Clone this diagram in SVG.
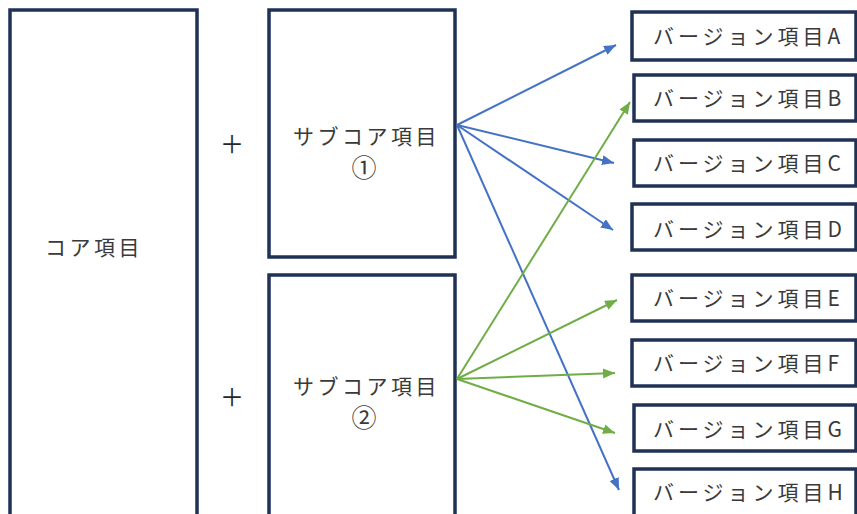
<svg xmlns="http://www.w3.org/2000/svg" width="857" height="514" viewBox="0 0 857 514">
<defs>
<style>
.box{fill:#fff;stroke:#1f3256;stroke-width:3.5}
.t{font-family:"Noto Sans CJK JP","Noto Sans",sans-serif;font-size:21px;fill:#3a3a3a;letter-spacing:3.5px}
.v{font-family:"Noto Sans CJK JP","Noto Sans",sans-serif;font-size:21px;fill:#3a3a3a;letter-spacing:4px}
.c{font-family:"Noto Sans CJK JP","Noto Sans",sans-serif;font-size:25px;fill:#3a3a3a;text-anchor:middle}
.p{font-family:"Noto Sans CJK JP","Noto Sans",sans-serif;font-size:24px;fill:#262626;text-anchor:middle}
.b{stroke:#4472c4;stroke-width:2;fill:none;marker-end:url(#ab)}
.g{stroke:#70ad47;stroke-width:2;fill:none;marker-end:url(#ag)}
</style>
<marker id="ab" markerUnits="userSpaceOnUse" markerWidth="14" markerHeight="12" refX="12" refY="5" orient="auto"><path d="M0,0 L12,5 L0,10 Z" fill="#4472c4"/></marker>
<marker id="ag" markerUnits="userSpaceOnUse" markerWidth="14" markerHeight="12" refX="12" refY="5" orient="auto"><path d="M0,0 L12,5 L0,10 Z" fill="#70ad47"/></marker>
</defs>
<rect width="857" height="514" fill="#fff"/>
<g id="core"><rect class="box" x="10" y="10" width="187" height="520"/><text class="t" x="45" y="255">コア項目</text></g>
<g id="plus1"><text class="p" x="232" y="153">＋</text></g>
<g id="plus2"><text class="p" x="232" y="406">＋</text></g>
<g id="sub1"><rect class="box" x="269" y="10" width="186" height="247"/><text class="t" x="293" y="144">サブコア項目</text><text class="c" x="364" y="177">①</text></g>
<g id="sub2"><rect class="box" x="269" y="275" width="186" height="260"/><text class="t" x="293" y="394">サブコア項目</text><text class="c" x="364" y="427">②</text></g>
<g id="vA"><rect class="box" x="632" y="12" width="224" height="48"/><text class="v" x="653" y="44">バージョン項目A</text></g>
<g id="vB"><rect class="box" x="634" y="75" width="222" height="46"/><text class="v" x="653" y="106">バージョン項目B</text></g>
<g id="vC"><rect class="box" x="634" y="140" width="222" height="46"/><text class="v" x="653" y="171">バージョン項目C</text></g>
<g id="vD"><rect class="box" x="632" y="204" width="224" height="46"/><text class="v" x="653" y="237">バージョン項目D</text></g>
<g id="vE"><rect class="box" x="632" y="275" width="224" height="46"/><text class="v" x="653" y="306">バージョン項目E</text></g>
<g id="vF"><rect class="box" x="632" y="340" width="224" height="46"/><text class="v" x="653" y="371">バージョン項目F</text></g>
<g id="vG"><rect class="box" x="634" y="405" width="222" height="46"/><text class="v" x="653" y="437">バージョン項目G</text></g>
<g id="vH"><rect class="box" x="634" y="469" width="222" height="60"/><text class="v" x="653" y="500">バージョン項目H</text></g>
<g id="connectors">
<line class="b" x1="457" y1="125" x2="616" y2="45"/>
<line class="b" x1="457" y1="125" x2="614" y2="163"/>
<line class="b" x1="457" y1="125" x2="613" y2="230"/>
<line class="b" x1="457" y1="125" x2="619" y2="490"/>
<line class="g" x1="457" y1="379" x2="630" y2="102"/>
<line class="g" x1="457" y1="379" x2="617" y2="300"/>
<line class="g" x1="457" y1="379" x2="615" y2="373"/>
<line class="g" x1="457" y1="379" x2="615" y2="433"/>
</g>
</svg>
